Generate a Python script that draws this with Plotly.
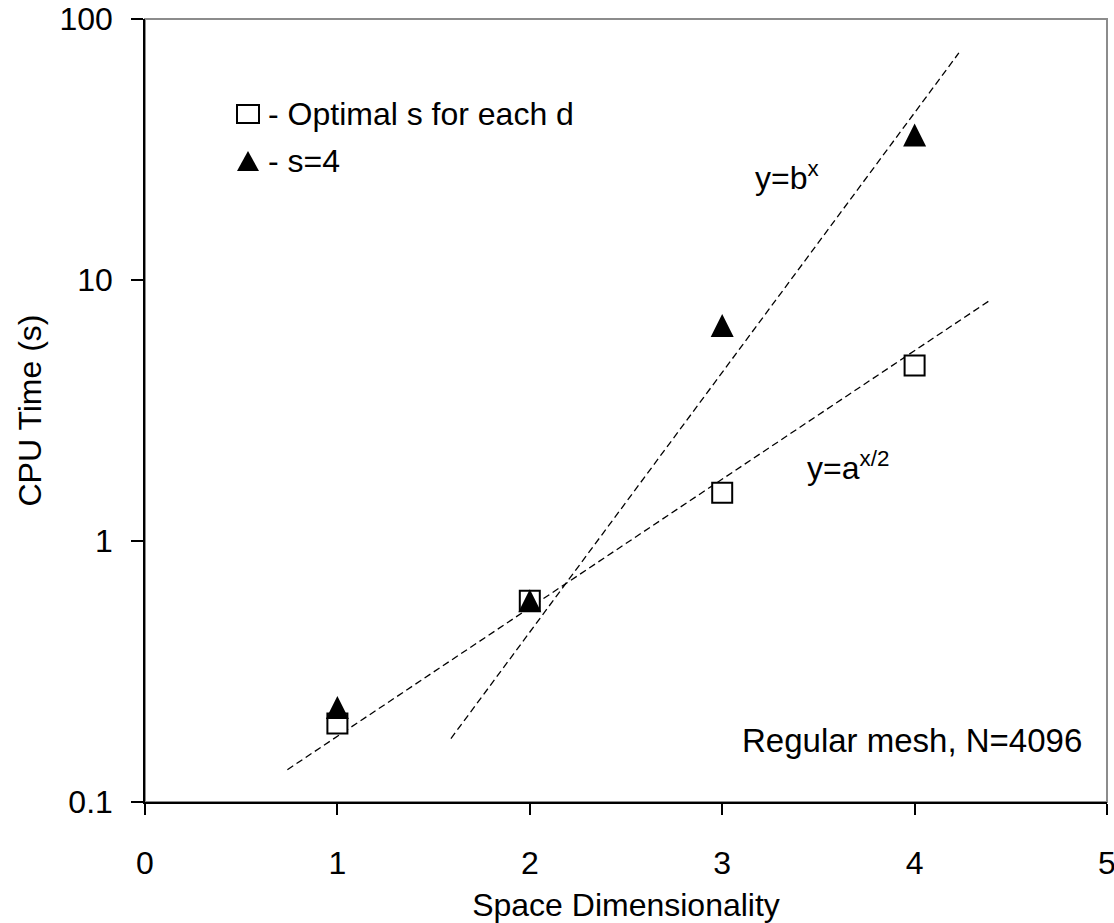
import plotly.graph_objects as go

# ---- data ----
dims = [1, 2, 3, 4]
optimal_s = [0.20, 0.59, 1.53, 4.70]      # open squares
s4 = [0.23, 0.59, 6.69, 35.9]             # filled triangles

# dashed reference lines (end points)
line_a_x = [0.74, 4.40]
line_a_y = [0.133, 8.44]
line_b_x = [1.59, 4.23]
line_b_y = [0.175, 74.1]

x_ticks = [0, 1, 2, 3, 4, 5]
y_ticks = [0.1, 1, 10, 100]
y_ticktext = ["0.1", "1", "10", "100"]

FONT = "Liberation Sans, Arial, sans-serif"
FS = 32
TRI = 23

fig = go.Figure()
fig.add_trace(go.Scatter(x=line_a_x, y=line_a_y, mode="lines",
                         line=dict(color="black", width=1.3, dash="7px,4px"),
                         showlegend=False, hoverinfo="skip"))
fig.add_trace(go.Scatter(x=line_b_x, y=line_b_y, mode="lines",
                         line=dict(color="black", width=1.3, dash="7px,4px"),
                         showlegend=False, hoverinfo="skip"))
fig.add_trace(go.Scatter(x=dims, y=optimal_s, mode="markers", name="Optimal s for each d",
                         marker=dict(symbol="square", size=20, color="white",
                                     line=dict(color="black", width=2)),
                         showlegend=False))
fig.add_trace(go.Scatter(x=dims, y=s4, mode="markers", name="s=4",
                         marker=dict(symbol="arrow-down", angle=180, size=TRI,
                                     standoff=TRI / 2, color="black",
                                     line=dict(color="black", width=0)),
                         showlegend=False))

W, H = 1114, 923
L, R, T, B = 145, 7, 19, 121
pw, ph = W - L - R, H - T - B


def px(xp):
    return (xp - L) / pw


def py(yp):
    return (H - B - yp) / ph


shapes = [
    # plot-area frame (grey)
    dict(type="rect", xref="paper", yref="paper", x0=0, y0=0, x1=1, y1=1,
         line=dict(color="#8c8c8c", width=2), layer="below"),
    # legend glyphs
    dict(type="rect", xref="paper", yref="paper",
         x0=px(237), x1=px(259), y0=py(123), y1=py(105),
         line=dict(color="black", width=2), fillcolor="white"),
    dict(type="path", xref="paper", yref="paper",
         path=f"M {px(237)},{py(171)} L {px(259)},{py(171)} L {px(248)},{py(151)} Z",
         line=dict(color="black", width=0), fillcolor="black"),
]

annotations = [
    dict(text="- Optimal s for each d", x=px(266), y=py(113.5), xref="paper", yref="paper",
         xanchor="left", yanchor="middle", showarrow=False, font=dict(size=FS)),
    dict(text="- s=4", x=px(266), y=py(161.5), xref="paper", yref="paper",
         xanchor="left", yanchor="middle", showarrow=False, font=dict(size=FS)),
    dict(text="y=b<sup>x</sup>", x=px(753), y=py(176), xref="paper", yref="paper",
         xanchor="left", yanchor="middle", showarrow=False, font=dict(size=FS)),
    dict(text="y=a<sup>x/2</sup>", x=px(805), y=py(466), xref="paper", yref="paper",
         xanchor="left", yanchor="middle", showarrow=False, font=dict(size=FS)),
    dict(text="Regular mesh, N=4096", x=px(740), y=py(740), xref="paper", yref="paper",
         xanchor="left", yanchor="middle", showarrow=False, font=dict(size=33)),
]

fig.update_layout(
    width=W, height=H,
    margin=dict(l=L, r=R, t=T, b=B),
    paper_bgcolor="white", plot_bgcolor="white",
    font=dict(family=FONT, size=FS, color="black"),
    shapes=shapes, annotations=annotations,
    showlegend=False,
)
fig.update_xaxes(range=[0, 5], tickvals=x_ticks, ticks="outside", ticklen=11,
                 tickcolor="black", tickwidth=1.5, showline=True, linecolor="black",
                 linewidth=1.5, showgrid=False, zeroline=False, automargin=False,
                 tickfont=dict(size=FS), ticklabelstandoff=21, ticklabeloverflow="allow",
                 title=dict(text="Space Dimensionality", font=dict(size=FS), standoff=13))
fig.update_yaxes(type="log", range=[-1, 2], tickvals=y_ticks, ticktext=y_ticktext,
                 ticks="outside", ticklen=12, tickcolor="black", tickwidth=1.5,
                 showline=True, linecolor="black", linewidth=1.5, showgrid=False,
                 zeroline=False, automargin=False, tickfont=dict(size=FS),
                 ticklabelstandoff=12,
                 title=dict(text="CPU Time (s)", font=dict(size=FS), standoff=8))

fig.write_html("out.html")
